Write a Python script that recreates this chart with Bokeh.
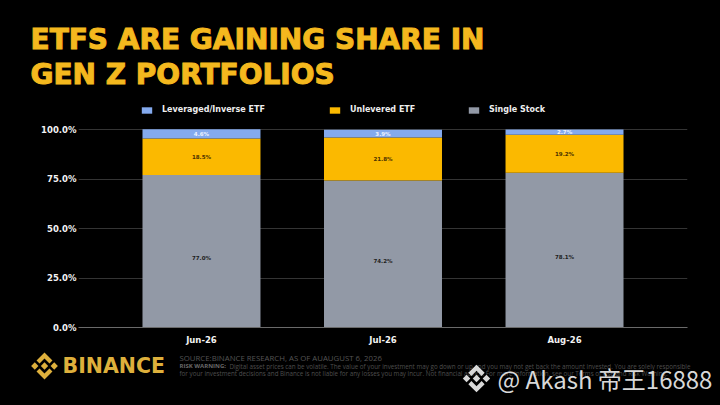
from bokeh.plotting import figure
from bokeh.layouts import column
from bokeh.embed import file_html
from bokeh.resources import INLINE
from bokeh.models import Legend, LegendItem, ColumnDataSource, FactorRange, Range1d, FixedTicker
from bokeh.core.properties import value

months = ["Jun-26", "Jul-26", "Aug-26"]
single_stock = [77.0, 74.2, 78.1]
unlevered_etf = [18.5, 21.8, 19.2]
leveraged_etf = [4.6, 3.9, 2.7]
series_names = ["Single Stock", "Unlevered ETF", "Leveraged/Inverse ETF"]
y_ticks = [0, 25, 50, 75, 100]
y_tick_labels = ["0.0%", "25.0%", "50.0%", "75.0%", "100.0%"]
title_lines = ["ETFS ARE GAINING SHARE IN", "GEN Z PORTFOLIOS"]
source_note = "SOURCE:BINANCE RESEARCH, AS OF AUAUGUST 6, 2026"
risk_head = "RISK WARNING:"
risk_1 = "Digital asset prices can be volatile. The value of your investment may go down or up and you may not get back the amount invested. You are solely responsible"
risk_2 = "for your investment decisions and Binance is not liable for any losses you may incur. Not financial advice. For more information, see our Terms of Use and Risk Warning."
watermark = "@ Akash 帝王16888"

GRAY, YELLOW, BLUE = "#9299a6", "#fbb900", "#84aaee"
GOLD = "#f4b81e"
BLACK = "#000000"
W = 720
HEAD_H, MAIN_H, FOOT_H = 95, 252, 58


def strip(top, height):
    """A black band whose data coordinates are the page's own pixels."""
    f = figure(width=W, height=height, output_backend="svg", toolbar_location=None,
               x_range=Range1d(0, W), y_range=Range1d(top + height, top), frame_align=False,
               min_border=0, background_fill_color=BLACK, border_fill_color=BLACK, outline_line_color=None)
    f.axis.visible = False
    f.grid.grid_line_color = None
    return f


def text(f, s, x, y, size, color, font="DejaVu Sans", style="normal", **kw):
    # y is the text's foot on the page; the glyph is anchored at the middle of its capitals
    f.text(x=[x], y=[y - 0.36 * size], text=[s], text_font=value(font), text_font_size=f"{size}px",
           text_font_style=style, text_color=color, text_baseline="middle", **kw)


# header
head = strip(0, HEAD_H)
text(head, title_lines[0], 30, 49, 28, GOLD, style="bold", text_outline_color=GOLD)
text(head, title_lines[1], 30, 84, 28, GOLD, style="bold", text_outline_color=GOLD)

# main chart
p = figure(width=W, height=MAIN_H, output_backend="svg", toolbar_location=None, frame_align=False,
           x_range=FactorRange(factors=months, range_padding=0.1775, range_padding_units="absolute",
                               factor_padding=0, group_padding=0),
           y_range=Range1d(0, 115.66),
           min_border_left=78, min_border_right=33, min_border_top=3, min_border_bottom=20,
           background_fill_color=BLACK, border_fill_color=BLACK, outline_line_color=None)

src = ColumnDataSource(dict(month=months, single=single_stock, unlev=unlevered_etf, lev=leveraged_etf))
rs = p.vbar_stack(["single", "unlev", "lev"], x="month", width=0.65, color=[GRAY, YELLOW, BLUE],
                  line_color=None, source=src)

p.grid.grid_line_color = None
p.ygrid.grid_line_color = "#343434"
p.ygrid.ticker = FixedTicker(ticks=y_ticks)
p.ygrid.level = "underlay"
p.yaxis.ticker = FixedTicker(ticks=y_ticks)
p.yaxis.major_label_overrides = {t: l for t, l in zip(y_ticks, y_tick_labels)}
p.yaxis.axis_line_color = None
p.yaxis.major_label_standoff = 2
p.xaxis.axis_line_color = "#6a6a6a"
p.xaxis.major_label_standoff = 7
for ax in (p.xaxis, p.yaxis):
    ax.major_tick_line_color = None
    ax.minor_tick_line_color = None
    ax.major_tick_out = 0
    ax.major_tick_in = 0
    ax.minor_tick_out = 0
    ax.minor_tick_in = 0
    ax.major_label_text_color = "#f2f2f2"
    ax.major_label_text_font = "DejaVu Sans"
    ax.major_label_text_font_style = "bold"
    ax.major_label_text_font_size = "8.5px"


def labels(ys, vals, color, yoff=0):
    s = ColumnDataSource(dict(x=months, y=ys, t=[f"{v:.1f}%" for v in vals]))
    p.text(x="x", y="y", text="t", source=s, text_color=color, text_font_size="5.5px",
           text_font=value("DejaVu Sans"), text_font_style="bold", text_align="center",
           text_baseline="middle", y_offset=yoff)


mid_s = [a / 2 for a in single_stock]
mid_u = [a + b / 2 for a, b in zip(single_stock, unlevered_etf)]
mid_l = [a + b + c / 2 for a, b, c in zip(single_stock, unlevered_etf, leveraged_etf)]
labels(mid_s, single_stock, "#1d1d20", 7)
labels(mid_u, unlevered_etf, "#4a3000")
labels(mid_l, leveraged_etf, "#eef3ff")

# legend: one block per entry to keep the reference's uneven gaps
for r, name, x in zip(rs, series_names, [468, 329, 141]):
    leg = Legend(items=[LegendItem(label=name, renderers=[r])], location=(x - 78 - 1, 213),
                 orientation="horizontal", background_fill_alpha=0, border_line_color=None,
                 glyph_width=13, glyph_height=8, label_text_color="#eeeeee", label_text_font="DejaVu Sans",
                 label_text_font_style="bold", label_text_font_size="8px", label_standoff=9,
                 padding=1, margin=0, label_height=8)
    p.add_layout(leg, "center")

# footer
foot = strip(HEAD_H + MAIN_H, FOOT_H)
text(foot, "BINANCE", 62, 372.5, 20.5, "#deb03c", style="bold")
text(foot, source_note, 179, 360, 7.8, "#545454", font="Open Sans")
text(foot, risk_head, 179, 368, 6, "#6a6a6a", font="Open Sans", style="bold")
text(foot, risk_1, 229, 368, 6.25, "#4e4e4e", font="Open Sans")
text(foot, risk_2, 179, 375, 6.25, "#4e4e4e", font="Open Sans")
text(foot, watermark, 497, 387, 24, "#d8d8d8", font="Noto Sans CJK SC")

CENTER = [(0, .27), (.27, 0), (0, -.27), (-.27, 0)]
SIDE = [(.72, .27), (.99, 0), (.72, -.27), (.45, 0)]
TOP = [(0, 1), (.59, .41), (.37, .19), (0, .56), (-.37, .19), (-.59, .41)]


def mark(f, cx, cy, r, color):
    parts = [CENTER, SIDE, [(-a, b) for a, b in SIDE], TOP, [(a, -b) for a, b in TOP]]
    f.patches([[cx + a * r for a, b in part] for part in parts],
              [[cy - b * r for a, b in part] for part in parts],
              fill_color=color, line_color=None)


mark(foot, 44, 365.5, 13.5, "#deb03c")
mark(foot, 476, 378, 13.8, "#d8d8d8")

page = column(head, p, foot, spacing=0)
html = file_html(page, INLINE).replace("<head>", "<head><style>html,body{background:#000}</style>", 1)
open("out.html", "w").write(html)
